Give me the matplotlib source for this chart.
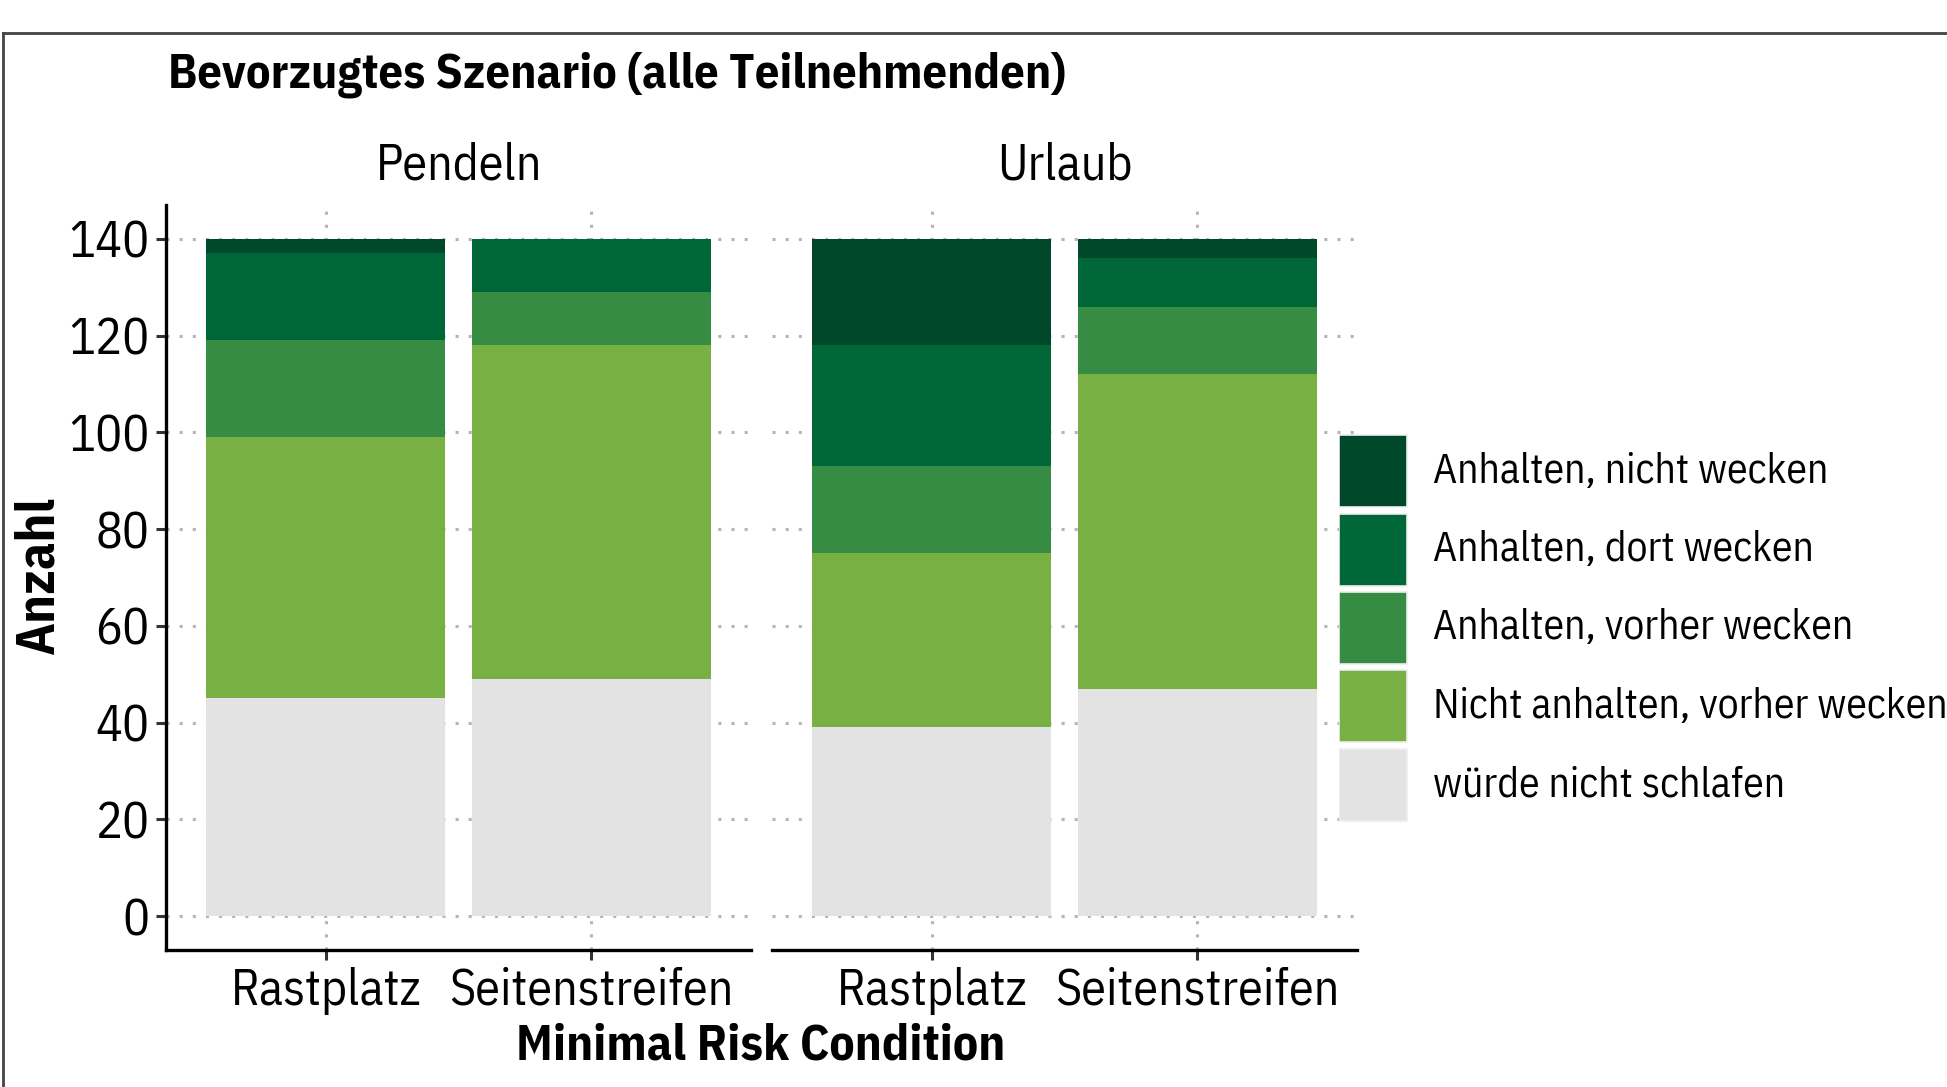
import matplotlib
matplotlib.use("Agg")
import matplotlib.pyplot as plt
import numpy as np
from matplotlib.patches import Rectangle
from matplotlib.lines import Line2D

plt.rcParams['font.family'] = ['IBM Plex Sans Condensed', 'DejaVu Sans']

# --- data ---
panels = ['Pendeln', 'Urlaub']
conditions = ['Rastplatz', 'Seitenstreifen']
# stacked from bottom to top
categories = ['würde nicht schlafen', 'Nicht anhalten, vorher wecken',
              'Anhalten, vorher wecken', 'Anhalten, dort wecken',
              'Anhalten, nicht wecken']
colors = ['#E3E3E3', '#78B043', '#368C43', '#006738', '#00482A']

pendeln_wuerde = [45, 49]
pendeln_nicht_anhalten = [54, 69]
pendeln_vorher = [20, 11]
pendeln_dort = [18, 11]
pendeln_nicht_wecken = [3, 0]

urlaub_wuerde = [39, 47]
urlaub_nicht_anhalten = [36, 65]
urlaub_vorher = [18, 14]
urlaub_dort = [25, 10]
urlaub_nicht_wecken = [22, 4]

values = {
    'Pendeln': [pendeln_wuerde, pendeln_nicht_anhalten, pendeln_vorher,
                pendeln_dort, pendeln_nicht_wecken],
    'Urlaub': [urlaub_wuerde, urlaub_nicht_anhalten, urlaub_vorher,
               urlaub_dort, urlaub_nicht_wecken],
}
yticks = [0, 20, 40, 60, 80, 100, 120, 140]

W, H = 1947, 1087
fig = plt.figure(figsize=(W / 100, H / 100), dpi=100)
fig.patch.set_facecolor('white')

ax_bottom = (H - 950) / H
ax_height = 745 / H
lefts = [166.4 / W, 772.3 / W]
width = 584.5 / W

for i, (name, left) in enumerate(zip(panels, lefts)):
    ax = fig.add_axes([left, ax_bottom, width, ax_height])
    x = np.arange(1, len(conditions) + 1)
    bottom = np.zeros(len(conditions))
    for vals, col, lab in zip(values[name], colors, categories):
        ax.bar(x, vals, bottom=bottom, width=0.9, color=col, edgecolor='none',
               label=lab, zorder=2)
        bottom += np.array(vals)

    ax.set_xlim(0.4, 2.6)
    ax.set_ylim(-7, 147)
    ax.set_xticks(x)
    ax.set_xticklabels(conditions, fontsize=36)
    ax.set_yticks(yticks)
    ax.grid(True, color='#B5B5B5', linestyle=(0, (1, 3.3)), linewidth=2.2, zorder=0)
    ax.set_axisbelow(True)

    for s in ['top', 'right']:
        ax.spines[s].set_visible(False)
    ax.spines['bottom'].set_linewidth(2.4)
    ax.spines['bottom'].set_color('black')
    ax.tick_params(axis='x', length=7, width=2.2, color='#333333', pad=5)
    if i == 0:
        ax.spines['left'].set_linewidth(2.4)
        ax.spines['left'].set_color('black')
        ax.tick_params(axis='y', length=7, width=2.2, color='#333333',
                       labelsize=36, pad=5)
    else:
        ax.spines['left'].set_visible(False)
        ax.tick_params(axis='y', length=0, labelleft=False)

    ax.text(0.5, 1 + (205 - 166) / 745, name, transform=ax.transAxes,
            ha='center', va='center', fontsize=36)

fig.text(168 / W, 1 - 75 / H, 'Bevorzugtes Szenario (alle Teilnehmenden)',
         ha='left', va='center', fontsize=35, fontweight='bold')
fig.text(761 / W, 1 - 1046 / H, 'Minimal Risk Condition',
         ha='center', va='center', fontsize=36, fontweight='bold')
fig.text(39 / W, 1 - 575 / H, 'Anzahl', rotation=90,
         ha='center', va='center', fontsize=38.5, fontweight='bold')

# legend, drawn as key boxes with labels (top entry first)
lg_left, lg_top, lg_bottom = 1338.5, 432, 824
lax = fig.add_axes([lg_left / W, 1 - lg_bottom / H, (W - lg_left) / W,
                    (lg_bottom - lg_top) / H])
lax.set_xlim(0, 1)
lax.set_ylim(len(categories), 0)
lax.axis('off')
key_w = 68 / (W - lg_left)
text_x = (1433 - lg_left) / (W - lg_left)
gap = 0.08
for row, (col, lab) in enumerate(zip(colors[::-1], categories[::-1])):
    lax.add_patch(Rectangle((0, row + gap / 2), key_w, 1 - gap,
                            facecolor=col, edgecolor='#EDEDED', linewidth=1.2))
    lax.text(text_x, row + 0.5, lab, ha='left', va='center', fontsize=30)

# outer frame of the original picture
fig.add_artist(Line2D([3 / W, 1], [1 - 33 / H, 1 - 33 / H],
                      color='#444444', linewidth=2, transform=fig.transFigure))
fig.add_artist(Line2D([3 / W, 3 / W], [0, 1 - 33 / H],
                      color='#444444', linewidth=2, transform=fig.transFigure))

fig.savefig('out.png', dpi=100)
